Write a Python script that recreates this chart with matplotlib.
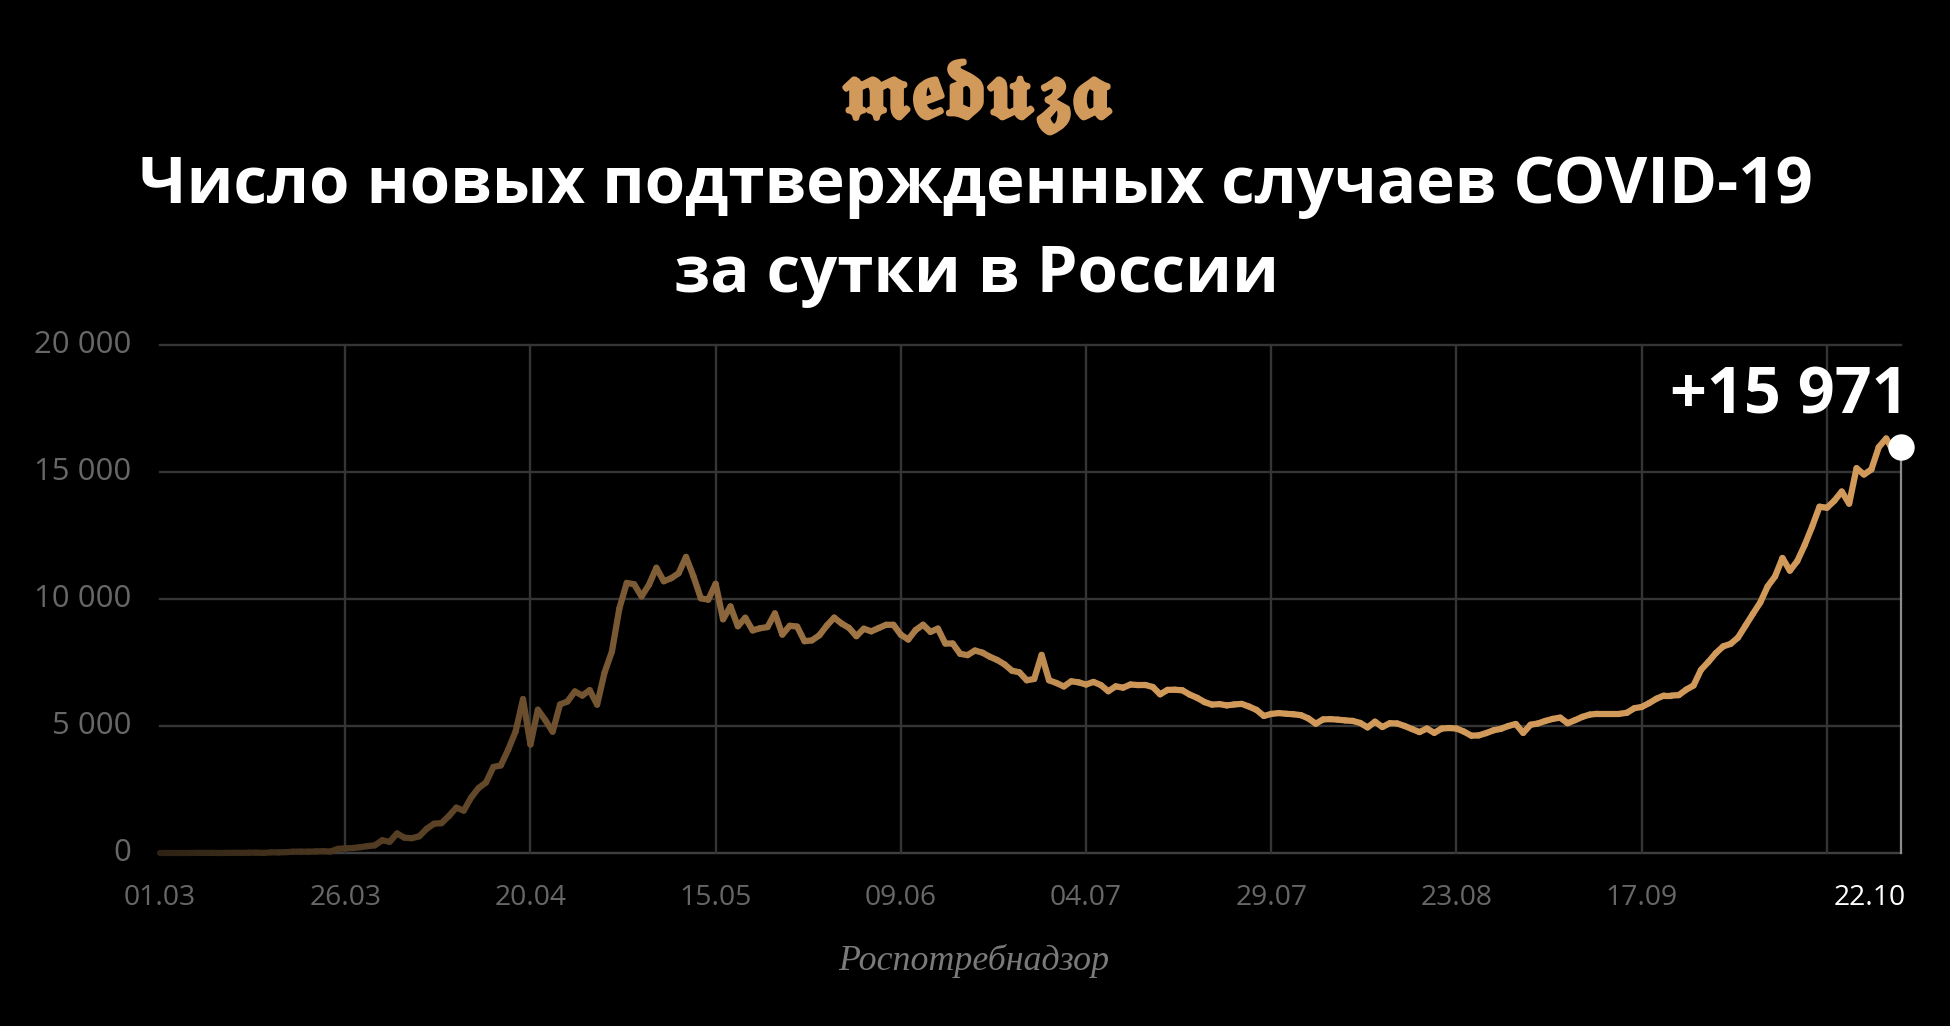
import matplotlib
matplotlib.use("Agg")
import matplotlib.pyplot as plt
import matplotlib.patheffects as pe
from matplotlib.collections import LineCollection
import numpy as np

plt.rcParams['font.family'] = ['Open Sans', 'DejaVu Sans']
plt.rcParams['mathtext.fontset'] = 'stix'

# ------------------------
# DATA: new confirmed cases per day, 01.03 -> 22.10
# ------------------------
mar = [0, 1, 0, 0, 1, 6, 3, 4, 0, 3, 8, 6, 11, 14, 4, 27, 24, 33, 52, 54, 53,
       61, 71, 57, 163, 182, 196, 228, 270, 302, 501]
apr = [440, 771, 601, 582, 658, 954, 1154, 1175, 1459, 1786, 1667, 2186, 2558,
       2774, 3388, 3448, 4070, 4785, 6060, 4268, 5642, 5236, 4774, 5849, 5966,
       6361, 6198, 6411, 5841, 7099]
may = [7933, 9623, 10633, 10581, 10102, 10559, 11231, 10699, 10817, 11012,
       11656, 10899, 10028, 9974, 10598, 9200, 9709, 8926, 9263, 8764, 8849,
       8894, 9434, 8599, 8946, 8915, 8338, 8371, 8572, 8952, 9268]
jun = [9035, 8863, 8536, 8831, 8726, 8855, 8984, 8985, 8595, 8404, 8779, 8987,
       8706, 8835, 8246, 8248, 7843, 7790, 7972, 7889, 7728, 7600, 7425, 7176,
       7113, 6800, 6852, 7800, 6800, 6693]
jul = [6556, 6760, 6718, 6632, 6736, 6611, 6368, 6562, 6509, 6635, 6611, 6615,
       6537, 6248, 6422, 6428, 6406, 6234, 6109, 5940, 5842, 5862, 5811, 5848,
       5871, 5765, 5635, 5395, 5475, 5509, 5482]
aug = [5462, 5427, 5300, 5090, 5260, 5270, 5250, 5220, 5200, 5120, 4945, 5170,
       4960, 5110, 5100, 5000, 4880, 4760, 4900, 4730, 4900, 4920, 4900, 4780,
       4620, 4630, 4720, 4830, 4890, 5000, 5080]
sep = [4729, 5050, 5100, 5200, 5280, 5330, 5110, 5230, 5360, 5450, 5480, 5480,
       5480, 5480, 5520, 5700, 5750, 5900, 6075, 6200, 6200, 6215, 6431, 6595,
       7212, 7523, 7867, 8135, 8232, 8481]
oct_ = [8945, 9412, 9859, 10499, 10888, 11615, 11115, 11493, 12126, 12846,
        13634, 13592, 13868, 14231, 13754, 15150, 14900, 15100, 15980, 16319,
        15800, 15971]

cases = mar + apr + may + jun + jul + aug + sep + oct_
days = np.arange(len(cases))

tick_days = [0, 25, 50, 75, 100, 125, 150, 175, 200]
tick_labels = ["01.03", "26.03", "20.04", "15.05", "09.06", "04.07", "29.07",
               "23.08", "17.09"]
grid_days = [25, 50, 75, 100, 125, 150, 175, 200, 225]
last_label = "22.10"
y_ticks = [0, 5000, 10000, 15000, 20000]
y_labels = ["0", "5 000", "10 000", "15 000", "20 000"]

GOLD = np.array([210, 154, 90]) / 255
GRID = "#353535"
TICK = "#676767"

# ------------------------
# FIGURE
# ------------------------
W, H = 1950, 1026
fig = plt.figure(figsize=(W / 100, H / 100), dpi=100, facecolor="black")
ax = fig.add_axes([160 / W, 1 - 853 / H, (1901 - 160) / W, (853 - 345) / H])
ax.set_facecolor("black")
ax.set_xlim(0, days[-1])
ax.set_ylim(0, 20000)
for s in ax.spines.values():
    s.set_visible(False)
ax.set_xticks([])
ax.set_yticks([])

for v in y_ticks:
    ax.axhline(v, color=GRID if v else "#404040", lw=1.7, clip_on=False, zorder=1)
for d in grid_days:
    ax.axvline(d, color=GRID, lw=1.7, clip_on=False, zorder=1)
ax.plot([days[-1], days[-1]], [0, cases[-1]], color="#8c8c8c", lw=1.6,
        clip_on=False, zorder=2)

# gradient line: fades in from dark brown to gold
pts = np.column_stack([days, cases])
segs = np.stack([pts[:-1], pts[1:]], axis=1)
mid = (days[:-1] + days[1:]) / 2
alpha = np.clip(0.22 + 0.78 * mid / 135, 0, 1)
cols = [tuple(GOLD * a) for a in alpha]
lc = LineCollection(segs, colors=cols, linewidths=4.5, capstyle="round",
                    joinstyle="round", zorder=3, clip_on=False)
ax.add_collection(lc)

ax.plot(days[-1], cases[-1], "o", color="white", ms=19, mec="none",
        clip_on=False, zorder=5)

renderer = fig.canvas.get_renderer()


def fit(txt, width_px):
    w = txt.get_window_extent(renderer).width
    txt.set_fontsize(txt.get_fontsize() * width_px / w)


# y labels
ytr = ax.get_yaxis_transform()
ylab = []
for v, lab in zip(y_ticks, y_labels):
    ylab.append(ax.text(-29 / 1741, v, lab, transform=ytr, ha="right",
                        va="center", color=TICK, fontsize=20))
fit(ylab[-1], 97)
for t in ylab:
    t.set_fontsize(ylab[-1].get_fontsize())

# x labels
xtr = ax.get_xaxis_transform()
xlab = []
for d, lab in zip(tick_days, tick_labels):
    xlab.append(ax.text(d, -45 / 508, lab, transform=xtr, ha="center",
                        va="center", color=TICK, fontsize=20))
fit(xlab[0], 72)
for t in xlab:
    t.set_fontsize(xlab[0].get_fontsize())
ax.text(days[-1] + 0.6, -45 / 508, last_label, transform=xtr, ha="right",
        va="center", color="white", fontsize=xlab[0].get_fontsize())

# value label
big = fig.text(1909 / W, 1 - 413 / H, "+15 971", ha="right", va="baseline",
               color="white", fontweight="bold", fontsize=50)
fit(big, 239)

# title
t1 = fig.text(976 / W, 1 - 203 / H, "Число новых подтвержденных случаев COVID-19",
              ha="center", va="baseline", color="white", fontweight="bold",
              fontsize=50)
fit(t1, 1673)
fig.text(976 / W, 1 - 292 / H, "за сутки в России", ha="center", va="baseline",
         color="white", fontweight="bold", fontsize=t1.get_fontsize())

# logo
logo = fig.text(976 / W, 1 - 96 / H, r"$\mathfrak{meduza}$", ha="center",
                va="center", color="#d29a5a", fontsize=40,
                path_effects=[pe.withStroke(linewidth=4, foreground="#d29a5a")])
fit(logo, 272)

# source
src = fig.text(974 / W, 1 - 961 / H, "Роспотребнадзор", ha="center", va="center",
               color="#7a7a7a", fontstyle="italic", fontsize=22,
               family=["Liberation Serif", "DejaVu Serif"])
fit(src, 270)

fig.savefig("out.png", dpi=100, facecolor="black")
